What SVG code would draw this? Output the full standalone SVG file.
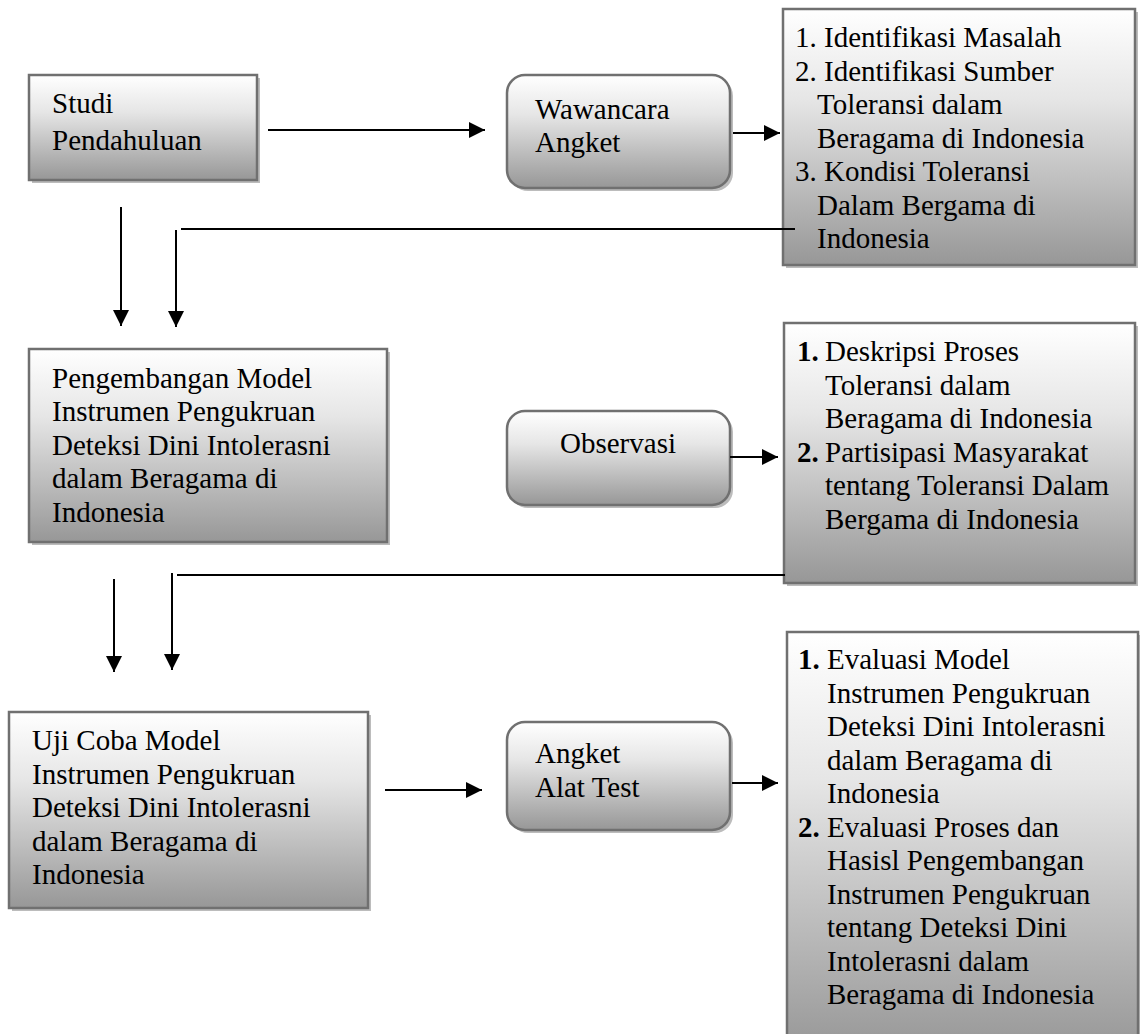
<svg xmlns="http://www.w3.org/2000/svg" width="1140" height="1034" viewBox="0 0 1140 1034">
<defs>
<linearGradient id="g" x1="0" y1="0" x2="0" y2="1">
<stop offset="0" stop-color="#ffffff"/>
<stop offset="0.35" stop-color="#e6e6e6"/>
<stop offset="1" stop-color="#979797"/>
</linearGradient>
<marker id="ah" markerWidth="16" markerHeight="16" viewBox="0 0 16 16" refX="16" refY="8" orient="auto" markerUnits="userSpaceOnUse">
<path d="M0,0 L16,8 L0,16 z" fill="#000"/>
</marker>
<style>
.box{fill:url(#g);stroke:#707070;stroke-width:2.5}
.sh{fill:#bcbcbc}
text{font-family:"Liberation Serif","Times New Roman",serif;font-size:29px;fill:#000}
.b{font-weight:bold}
.ln{stroke:#000;stroke-width:2;fill:none}
.ar{stroke:#000;stroke-width:2;fill:none;marker-end:url(#ah)}
</style>
</defs>
<rect width="1140" height="1034" fill="#fff"/>

<g id="studi">
<rect class="sh" x="32" y="78" width="228" height="105"/>
<rect class="box" x="29" y="75" width="228" height="105"/>
<text x="52" y="113">Studi</text>
<text x="52" y="150">Pendahuluan</text>
</g>

<g id="wawancara">
<rect class="sh" x="510" y="78" width="223" height="113" rx="18"/>
<rect class="box" x="507" y="75" width="223" height="113" rx="18"/>
<text x="535" y="119">Wawancara</text>
<text x="535" y="152">Angket</text>
</g>

<g id="hasil1">
<rect class="sh" x="786" y="12" width="352" height="256"/>
<rect class="box" x="783" y="9" width="352" height="256"/>
<text x="795" y="47">1. Identifikasi Masalah</text>
<text x="795" y="80.5">2. Identifikasi Sumber</text>
<text x="817" y="114">Toleransi dalam</text>
<text x="817" y="147.5">Beragama di Indonesia</text>
<text x="795" y="181">3. Kondisi Toleransi</text>
<text x="817" y="214.5">Dalam Bergama di</text>
<text x="817" y="248">Indonesia</text>
</g>

<g id="pengembangan">
<rect class="sh" x="32" y="352" width="358" height="193"/>
<rect class="box" x="29" y="349" width="358" height="193"/>
<text x="52" y="388">Pengembangan Model</text>
<text x="52" y="421">Instrumen Pengukruan</text>
<text x="52" y="454.5">Deteksi Dini Intolerasni</text>
<text x="52" y="488">dalam Beragama di</text>
<text x="52" y="521.5">Indonesia</text>
</g>

<g id="observasi">
<rect class="sh" x="510" y="414" width="223" height="94" rx="18"/>
<rect class="box" x="507" y="411" width="223" height="94" rx="18"/>
<text x="560" y="453">Observasi</text>
</g>

<g id="hasil2">
<rect class="sh" x="787" y="326" width="351" height="260"/>
<rect class="box" x="784" y="323" width="351" height="260"/>
<text x="797" y="361"><tspan class="b">1.</tspan></text>
<text x="825" y="361">Deskripsi Proses</text>
<text x="825" y="394.5">Toleransi dalam</text>
<text x="825" y="428">Beragama di Indonesia</text>
<text x="797" y="461.5"><tspan class="b">2.</tspan></text>
<text x="825" y="461.5">Partisipasi Masyarakat</text>
<text x="825" y="495">tentang Toleransi Dalam</text>
<text x="825" y="528.5">Bergama di Indonesia</text>
</g>

<g id="ujicoba">
<rect class="sh" x="12" y="715" width="359" height="196"/>
<rect class="box" x="9" y="712" width="359" height="196"/>
<text x="32" y="750">Uji Coba Model</text>
<text x="32" y="783.5">Instrumen Pengukruan</text>
<text x="32" y="817">Deteksi Dini Intolerasni</text>
<text x="32" y="850.5">dalam Beragama di</text>
<text x="32" y="884">Indonesia</text>
</g>

<g id="angket">
<rect class="sh" x="510" y="725" width="223" height="108" rx="18"/>
<rect class="box" x="507" y="722" width="223" height="108" rx="18"/>
<text x="535" y="763">Angket</text>
<text x="535" y="797">Alat Test</text>
</g>

<g id="hasil3">
<rect class="sh" x="790" y="635" width="351" height="420"/>
<rect class="box" x="787" y="632" width="351" height="420"/>
<text x="798" y="669"><tspan class="b">1.</tspan></text>
<text x="827" y="669">Evaluasi Model</text>
<text x="827" y="702.5">Instrumen Pengukruan</text>
<text x="827" y="736">Deteksi Dini Intolerasni</text>
<text x="827" y="769.5">dalam Beragama di</text>
<text x="827" y="803">Indonesia</text>
<text x="798" y="836.5"><tspan class="b">2.</tspan></text>
<text x="827" y="836.5">Evaluasi Proses dan</text>
<text x="827" y="870">Hasisl Pengembangan</text>
<text x="827" y="903.5">Instrumen Pengukruan</text>
<text x="827" y="937">tentang Deteksi Dini</text>
<text x="827" y="970.5">Intolerasni dalam</text>
<text x="827" y="1004">Beragama di Indonesia</text>
</g>

<g id="connectors">
<line class="ar" x1="268" y1="130" x2="485" y2="130"/>
<line class="ar" x1="733" y1="133" x2="780" y2="133"/>
<line class="ln" x1="181" y1="229" x2="795" y2="229"/>
<line class="ar" x1="176" y1="230" x2="176" y2="327"/>
<line class="ar" x1="121" y1="207" x2="121" y2="326"/>
<line class="ar" x1="730" y1="457" x2="778" y2="457"/>
<line class="ln" x1="177" y1="575" x2="785" y2="575"/>
<line class="ar" x1="172" y1="573" x2="172" y2="670"/>
<line class="ar" x1="114" y1="579" x2="114" y2="672"/>
<line class="ar" x1="385" y1="790" x2="482" y2="790"/>
<line class="ar" x1="732" y1="783" x2="778" y2="783"/>
</g>
</svg>
